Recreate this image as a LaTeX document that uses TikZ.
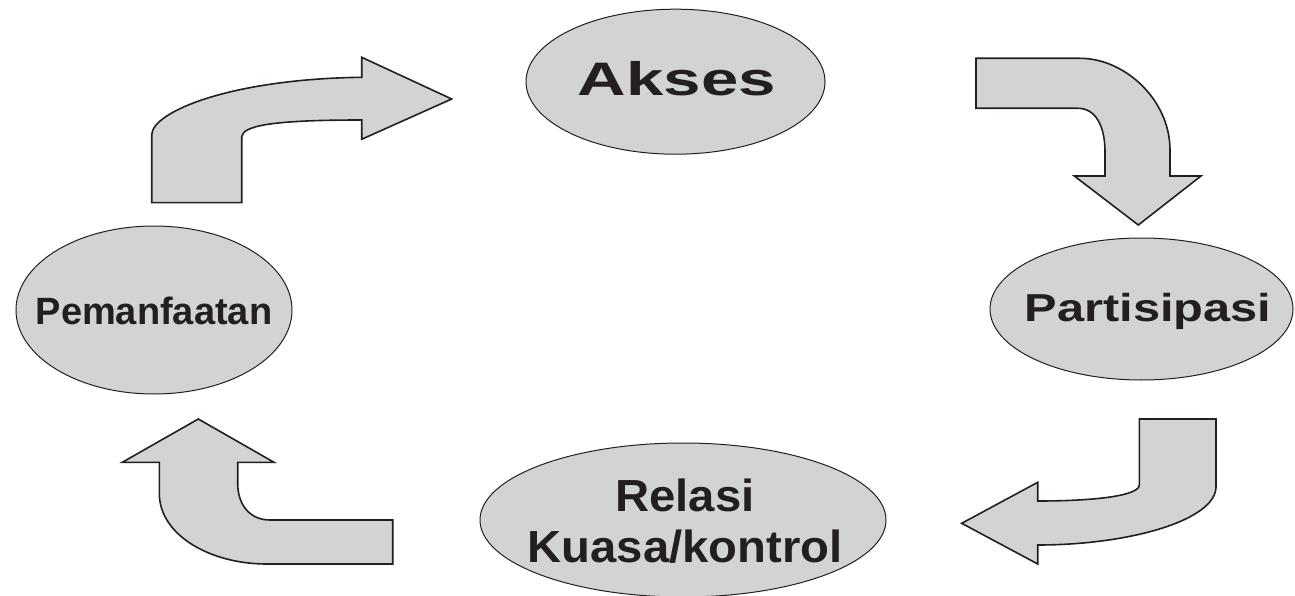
\documentclass[tikz,border=0pt]{standalone}
\usepackage{fontspec}
\setmainfont{Liberation Sans}
\usetikzlibrary{shapes.geometric}
\definecolor{shapefill}{RGB}{209,211,212}
\definecolor{ink}{RGB}{35,31,32}
\tikzset{
  bubble/.style={ellipse, draw=ink, line width=1pt, fill=shapefill, inner sep=0pt},
  bubbletext/.style={inner sep=0pt, text=ink, align=center},
  bentarrow/.style={draw=ink, line width=1.6pt, fill=shapefill, line join=miter}
}
\begin{document}
\begin{tikzpicture}[x=1pt,y=-1pt]
\useasboundingbox (0,0) rectangle (1295,596);
% ellipses
\node[bubble, minimum width=299pt, minimum height=145pt] (akses) at (675.5,81.7) {};
\node[bubble, minimum width=276pt, minimum height=168pt] (pemanfaatan) at (154,310) {};
\node[bubble, minimum width=303pt, minimum height=142pt] (partisipasi) at (1141.5,309) {};
\node[bubble, minimum width=406pt, minimum height=154pt] (relasi) at (683,520) {};
% texts
\node[bubbletext, font=\fontsize{47}{50}\selectfont\bfseries] (aksestext) at (677,78.5)
  {\scalebox{1.43}[1]{Akses}};
\node[bubbletext, font=\fontsize{38}{42}\selectfont\bfseries] (pemanfaatantext) at (154,311)
  {Pemanfaatan};
\node[bubbletext, font=\fontsize{39}{42}\selectfont\bfseries] (partisipasitext) at (1148,311)
  {\scalebox{1.25}[1]{Partisipasi}};
\node[bubbletext, font=\fontsize{45}{51}\selectfont\bfseries] (relasitext) at (685,521)
  {\scalebox{1.05}[1]{Relasi}\\\scalebox{1.05}[1]{Kuasa/kontrol}};
% arrow: Pemanfaatan -> Akses
\draw[bentarrow] (151.7,202.7) -- (241.7,202.7) -- (241.7,136.7)
  .. controls (243,126) and (270,120) .. (361.7,120)
  -- (361.7,139.3) -- (451.7,99) -- (361.7,57.3) -- (361.7,77.3)
  .. controls (230,79) and (151.7,112) .. (151.7,135) -- cycle;
% arrow: Akses -> Partisipasi
\draw[bentarrow] (976,58.3) -- (1080,58.3)
  .. controls (1125,58.3) and (1170,100) .. (1170,150)
  -- (1170,176) -- (1201,176) -- (1138.3,225) -- (1074.3,176) -- (1105,176) -- (1105,152)
  .. controls (1105,125) and (1095,108.3) .. (1078,108.3)
  -- (976,108.3) -- cycle;
% arrow: Partisipasi -> Relasi
\draw[bentarrow] (1139.3,419) -- (1216,419) -- (1216,486.7)
  .. controls (1216,520) and (1130,545) .. (1037.7,545)
  -- (1037.7,564) -- (961.7,523.3) -- (1037.7,482.3) -- (1037.7,501)
  .. controls (1100,501) and (1139.3,495) .. (1139.3,485) -- cycle;
% arrow: Relasi -> Pemanfaatan
\draw[bentarrow] (198.3,419) -- (274,462.3) -- (237.7,462.3) -- (237.7,483.3)
  .. controls (237.7,505) and (250,520) .. (270,520)
  -- (392.7,520) -- (392.7,564) -- (266.7,564)
  .. controls (210,564) and (159.3,535) .. (159.3,493.3)
  -- (159.3,462.3) -- (122.3,462.3) -- cycle;
\end{tikzpicture}
\end{document}
